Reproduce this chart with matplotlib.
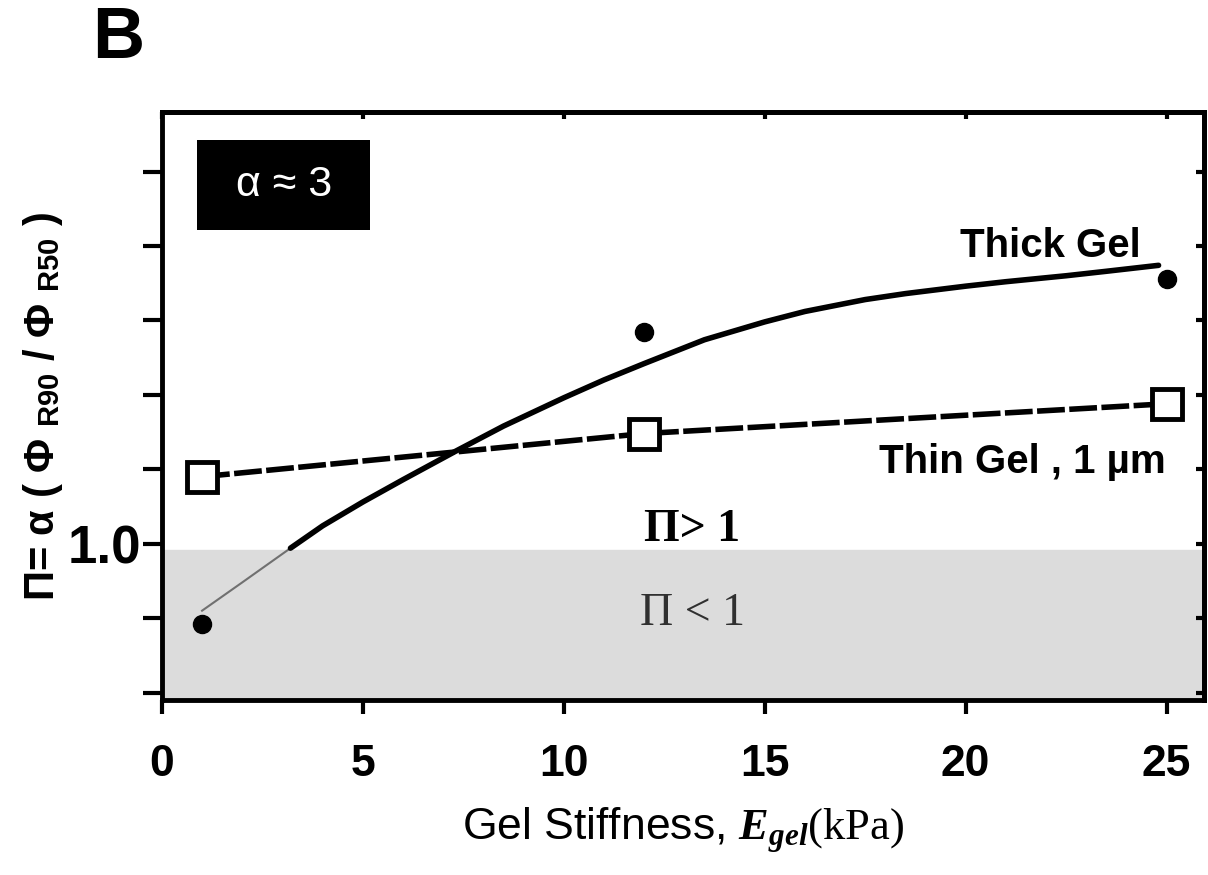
import matplotlib
matplotlib.use("Agg")
import matplotlib.pyplot as plt
from matplotlib.patches import Rectangle

# Data
gel_x = [1, 12, 25]
thick_y = [0.46, 2.42, 2.78]
thin_y = [1.45, 1.74, 1.94]

# fitted curve for the thick gel
fit_x = [1, 2, 3.2, 4, 5, 6, 7.3, 8.5, 10, 11, 12, 13.5, 15, 16, 17.5, 18.5, 20, 21, 22.5, 23.5, 24.8]
fit_y = [0.55, 0.74, 0.97, 1.12, 1.28, 1.43, 1.62, 1.79, 1.98, 2.10, 2.21, 2.37, 2.49, 2.56, 2.64,
         2.68, 2.73, 2.76, 2.80, 2.83, 2.87]

x_ticks = [0, 5, 10, 15, 20, 25]
y_ticks = [0.0, 0.5, 1.0, 1.5, 2.0, 2.5, 3.0, 3.5]

plt.rcParams['font.family'] = ['Liberation Sans Narrow', 'Liberation Sans', 'DejaVu Sans']
plt.rcParams['mathtext.fontset'] = 'custom'
plt.rcParams['mathtext.it'] = 'Liberation Serif:italic:bold'
plt.rcParams['mathtext.bf'] = 'Liberation Sans:bold'
plt.rcParams['mathtext.rm'] = 'Liberation Serif'

fig = plt.figure(figsize=(12.08, 8.75), dpi=100)
ax = fig.add_axes([0.134, 0.2, 0.863, 0.672])
ax.set_xlim(0, 25.94)
ax.set_ylim(-0.05, 3.9)

# shaded region Π < 1
ax.axhspan(-0.05, 0.96, color="#dcdcdc", zorder=0)

# thick gel fit: thin grey part below 1, thick black above
lo_x = [x for x, y in zip(fit_x, fit_y) if y <= 0.97]
lo_y = [y for y in fit_y if y <= 0.97]
hi_x = [x for x, y in zip(fit_x, fit_y) if y >= 0.97]
hi_y = [y for y in fit_y if y >= 0.97]
ax.plot(lo_x, lo_y, color="#707070", lw=1.5, zorder=2)
ax.plot(hi_x, hi_y, color="black", lw=4, solid_capstyle="round", solid_joinstyle="round", zorder=2)
ax.plot(gel_x, thick_y, "o", color="black", ms=13, zorder=3)

# thin gel
ax.plot(gel_x, thin_y, color="black", lw=4, dashes=(5, 0.8), zorder=2)
ax.plot(gel_x, thin_y, "s", mfc="white", mec="black", mew=3.5, ms=22, ls="none", zorder=3)

# ticks and spines
ax.set_xticks(x_ticks)
ax.set_xticklabels([str(t) for t in x_ticks], fontsize=32, fontweight="bold")
ax.set_yticks(y_ticks)
ax.set_yticklabels(["1.0" if t == 1.0 else "" for t in y_ticks], fontsize=38, fontweight="bold")
ax.tick_params(axis="x", direction="out", length=10, width=3, pad=22)
ax.tick_params(axis="y", direction="out", length=14, width=3, pad=1)
for s in ax.spines.values():
    s.set_linewidth(3.5)

top = ax.secondary_xaxis("top")
top.set_xticks(x_ticks)
top.set_xticklabels([])
top.tick_params(direction="in", length=5, width=3)
right = ax.secondary_yaxis("right")
right.set_yticks(y_ticks)
right.set_yticklabels([])
right.tick_params(direction="in", length=6, width=3)
for sec in (top, right):
    for s in sec.spines.values():
        s.set_linewidth(3.5)

# annotations
ax.add_patch(Rectangle((0.034, 0.80), 0.166, 0.153, transform=ax.transAxes,
                       facecolor="black", edgecolor="none", zorder=4))
ax.text(0.117, 0.876, "\u03b1 \u2248 3", transform=ax.transAxes, color="white",
        fontsize=31, ha="center", va="center", family=["Liberation Sans", "DejaVu Sans"], zorder=5)
ax.text(22.1, 3.0, "Thick Gel", fontsize=29, fontweight="bold", ha="center", va="center")
ax.text(21.4, 1.55, "Thin Gel , 1 \u00b5m", fontsize=29, fontweight="bold", ha="center", va="center")
ax.text(13.2, 1.09, "\u03a0> 1", fontsize=33, fontweight="bold", ha="center", va="center",
        family=["Liberation Serif", "DejaVu Serif"])
ax.text(13.2, 0.53, "\u03a0 < 1", fontsize=33, ha="center", va="center", color="#303030",
        family=["Liberation Serif", "DejaVu Serif"])

ax.set_xlabel("Gel Stiffness, $\\mathit{E}_{\\mathit{gel}}$$\\mathrm{(kPa)}$", fontsize=32, labelpad=14,
              family=["Liberation Sans", "DejaVu Sans"])
ax.set_ylabel("\u03a0= \u03b1 ( \u03a6 $_{\\mathbf{R90}}$ / \u03a6 $_{\\mathbf{R50}}$ )", fontsize=30,
              fontweight="bold", labelpad=2)

fig.text(0.098, 0.955, "B", fontsize=52, fontweight="bold", ha="center", va="center",
         family=["Liberation Sans", "DejaVu Sans"])

fig.savefig("out.png", dpi=100)
